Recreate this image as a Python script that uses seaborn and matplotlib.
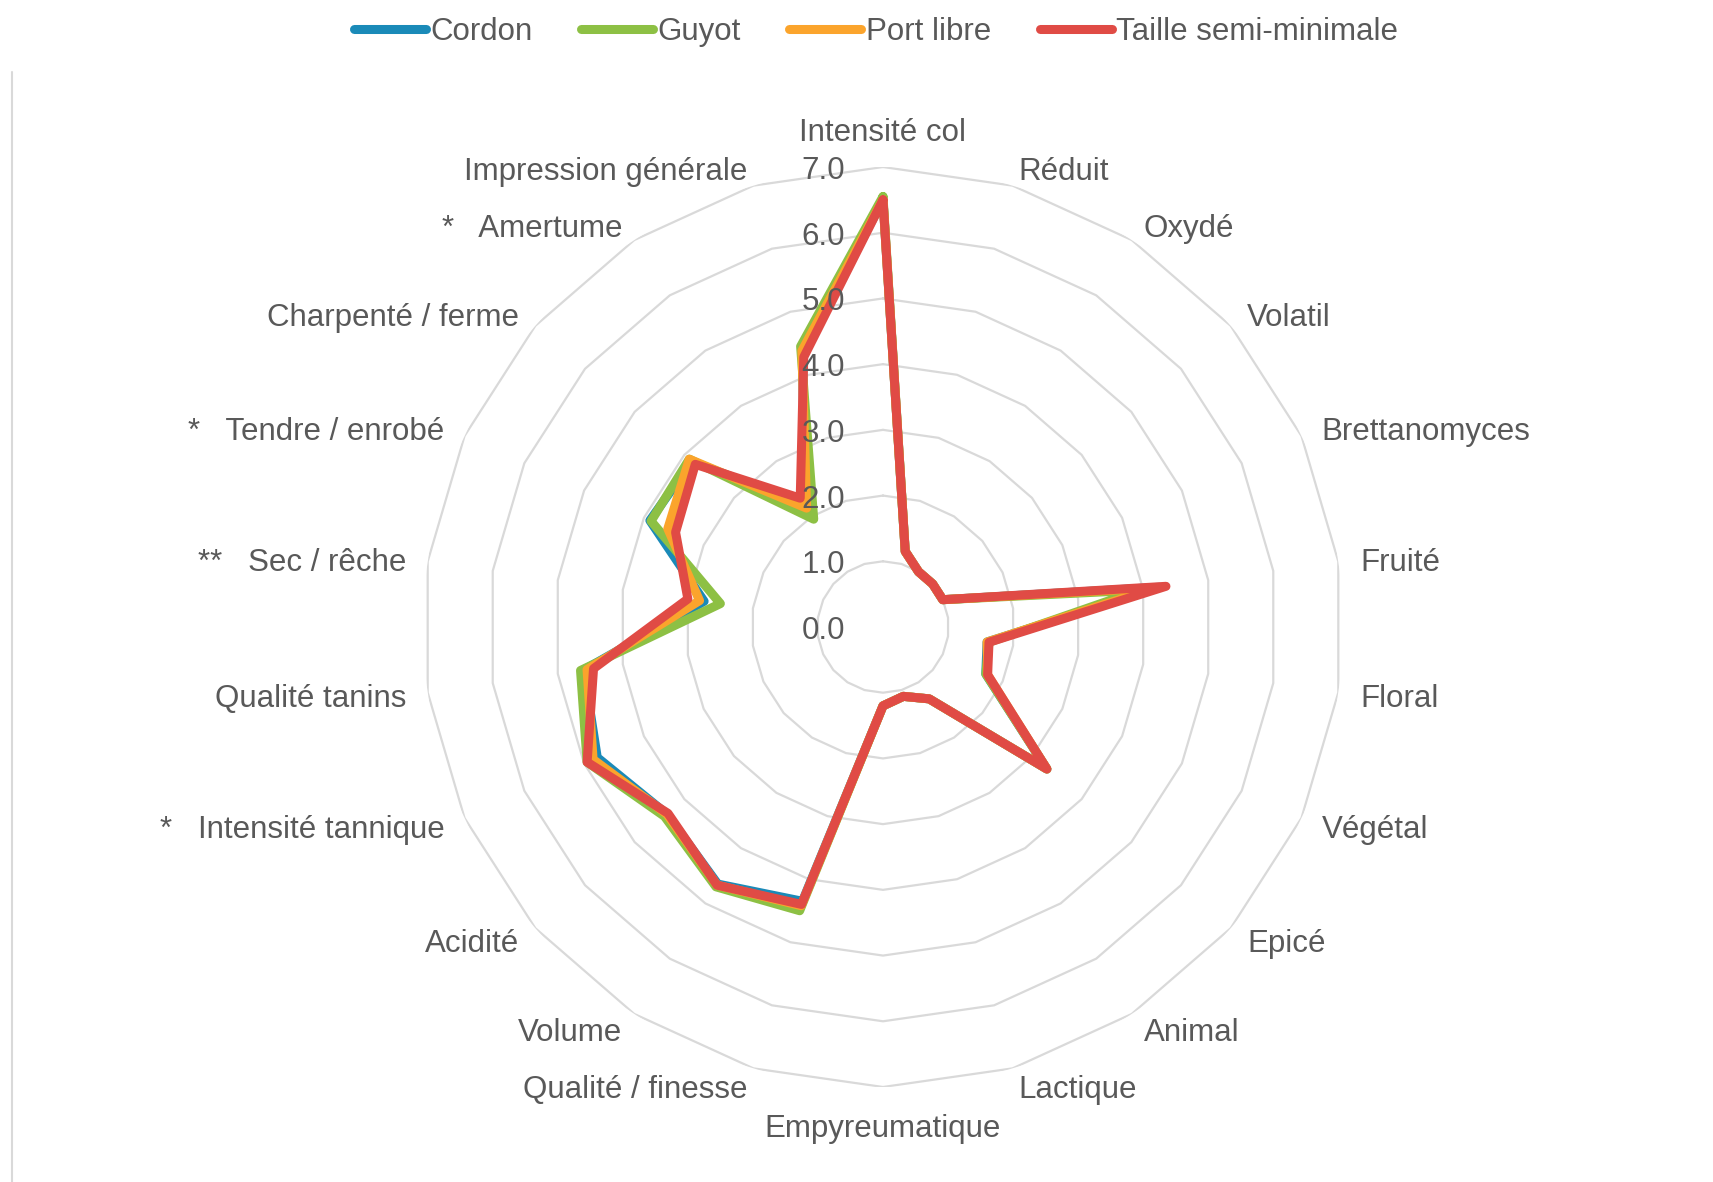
import numpy as np
import pandas as pd
import seaborn as sns
import matplotlib.pyplot as plt
from matplotlib.lines import Line2D
from matplotlib.transforms import offset_copy

# Categories (clockwise from the top)
categories = ["Intensité col", "Réduit", "Oxydé", "Volatil", "Brettanomyces", "Fruité",
              "Floral", "Végétal", "Epicé", "Animal", "Lactique", "Empyreumatique",
              "Qualité / finesse", "Volume", "Acidité", "*   Intensité tannique",
              "Qualité tanins", "**   Sec / rêche", "*   Tendre / enrobé",
              "Charpenté / ferme", "*   Amertume", "Impression générale"]

series_names = ["Cordon", "Guyot", "Port libre", "Taille semi-minimale"]

cordon = [6.5, 1.2, 1.0, 1.0, 1.0, 4.25, 1.6, 1.72, 3.3, 1.3, 1.1, 1.2,
          4.35, 4.65, 4.35, 4.78, 4.6, 2.75, 3.9, 3.85, 2.2, 4.35]
guyot = [6.55, 1.2, 1.0, 1.0, 1.0, 3.95, 1.63, 1.72, 3.3, 1.3, 1.1, 1.2,
         4.5, 4.7, 4.4, 4.95, 4.65, 2.5, 3.88, 3.9, 1.95, 4.45]
port_libre = [6.5, 1.2, 1.0, 1.0, 1.0, 4.2, 1.6, 1.75, 3.3, 1.3, 1.1, 1.2,
              4.42, 4.67, 4.35, 4.85, 4.55, 2.82, 3.6, 3.9, 2.15, 4.38]
taille = [6.5, 1.2, 1.0, 1.0, 1.0, 4.35, 1.63, 1.75, 3.3, 1.3, 1.1, 1.2,
          4.4, 4.67, 4.33, 4.95, 4.45, 3.0, 3.47, 3.78, 2.33, 4.28]

r_ticks = [0, 1, 2, 3, 4, 5, 6, 7]
r_labels = ["0.0", "1.0", "2.0", "3.0", "4.0", "5.0", "6.0", "7.0"]

colors = ["#1a8ab8", "#8dc044", "#fba42c", "#e04b45"]
text_color = "#595959"
grid_color = "#d9d9d9"

sns.set_theme(style="white")
plt.rcParams['font.family'] = ['Liberation Sans', 'DejaVu Sans']

n = len(categories)
angles = np.linspace(0, 2 * np.pi, n, endpoint=False)
angles_closed = np.append(angles, 2 * np.pi)

# long table, each series closed back on its first point
rows = []
for name, vals in zip(series_names, [cordon, guyot, port_libre, taille]):
    vals_closed = list(vals) + [vals[0]]
    for i, (t, v) in enumerate(zip(angles_closed, vals_closed)):
        rows.append({"series": name, "theta": t, "value": v, "order": i})
df = pd.DataFrame(rows)

W, H = 1713, 1182
fig = plt.figure(figsize=(W / 100, H / 100), dpi=100)
cx, cy, R = 883, 627, 460
ax = fig.add_axes([(cx - R) / W, (H - cy - R) / H, 2 * R / W, 2 * R / H], projection='polar')
ax.set_theta_offset(np.pi / 2)
ax.set_theta_direction(-1)
ax.set_ylim(0, 7)
ax.grid(False)
ax.spines['polar'].set_visible(False)
ax.set_xticks([])
ax.set_yticks([])
ax.set_facecolor('white')

# polygon grid rings
for lvl in r_ticks[1:]:
    ax.plot(angles_closed, [lvl] * (n + 1), color=grid_color, lw=1.6, zorder=0)

sns.lineplot(data=df, x="theta", y="value", hue="series", hue_order=series_names,
             palette=colors, sort=False, estimator=None, linewidth=6.5,
             solid_joinstyle='round', solid_capstyle='round', legend=False, ax=ax, zorder=3)
ax.set_xlabel("")
ax.set_ylabel("")

# radial value labels, left of the top axis
tr = offset_copy(ax.transData, fig=fig, x=-38, y=-4, units='dots')
for lvl, lab in zip(r_ticks, r_labels):
    ax.text(0, lvl, lab, transform=tr, ha='right', va='center',
            fontsize=22.5, color=text_color, zorder=5)

# category labels around the outer ring
for ang, lab in zip(angles, categories):
    s, c = np.sin(ang), np.cos(ang)
    if abs(s) < 0.05:
        dx, dy, ha = 0, 38 * np.sign(c), 'center'
    else:
        dx, dy = 22 * s, 18 * c
        ha = 'left' if s > 0 else 'right'
    dy -= 4
    ax.annotate(lab, xy=(ang, 7), xytext=(dx * 0.72, dy * 0.72), textcoords='offset points',
                ha=ha, va='center', fontsize=22.5, color=text_color, annotation_clip=False)

handles = [Line2D([0], [0], color=col, lw=6.5, solid_capstyle='round') for col in colors]
fig.legend(handles, series_names, loc='center', bbox_to_anchor=(876 / W, 1 - 32 / H),
           ncol=4, frameon=False, handlelength=2.3, handletextpad=0.15, columnspacing=1.55,
           fontsize=22.5, labelcolor=text_color)

fig.add_artist(Line2D([12 / W, 12 / W], [0, 1 - 72 / H], transform=fig.transFigure,
                      color=grid_color, lw=1.5))

fig.savefig("out.png", dpi=100, facecolor='white')
